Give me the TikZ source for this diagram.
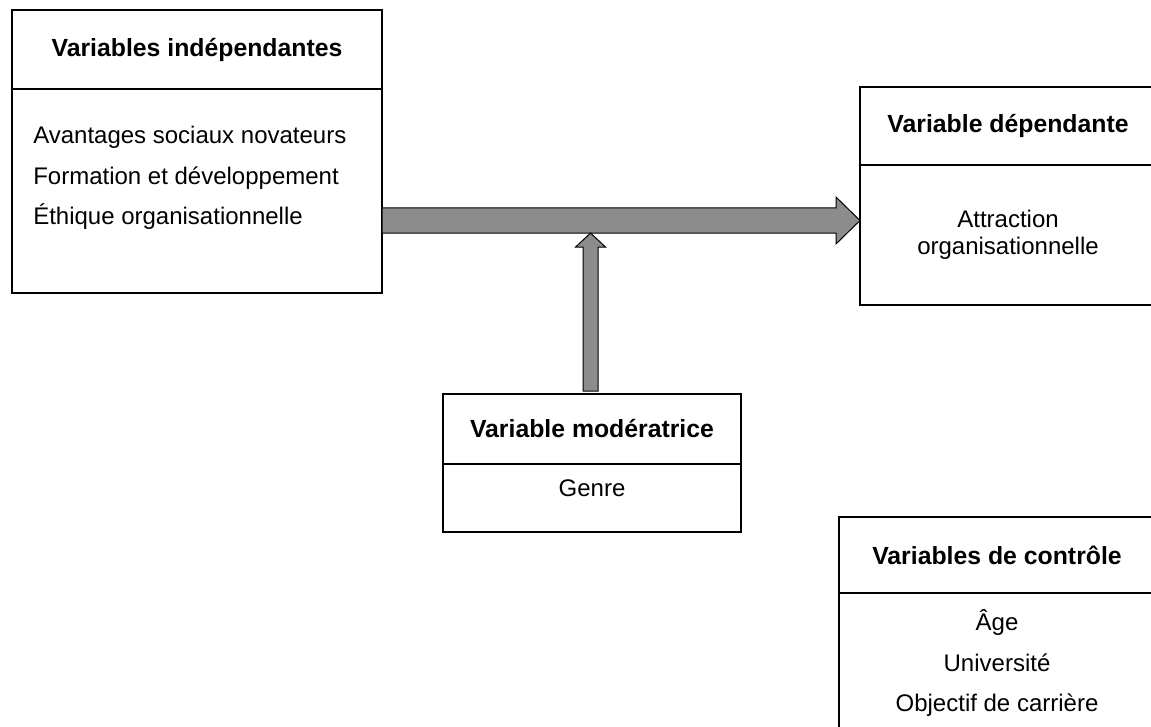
\documentclass[tikz,border=0pt]{standalone}
\usepackage{fontspec}
\setmainfont{Liberation Sans}
\usetikzlibrary{positioning}
\definecolor{arrow-gray}{RGB}{140,140,140}
\tikzset{
    title-box/.style = {draw=black, line width=1.5pt, rectangle, outer sep=0pt, inner sep=0pt, font=\fontsize{18.6}{22}\selectfont\bfseries},
    body-box/.style = {draw=black, line width=1.5pt, rectangle, outer sep=0pt, inner sep=0pt, align=center, font=\fontsize{18}{20.3}\selectfont},
    item-list/.style = {inner sep=0pt, font=\fontsize{18}{30.4}\selectfont},
    block-arrow/.style = {draw=black, line width=0.75pt, fill=arrow-gray, line join=miter},
}

\begin{document}
\begin{tikzpicture}[x=0.75pt, y=-0.75pt]
\useasboundingbox (0,0) rectangle (1151,726);
\clip (0,0) rectangle (1151,726);

\node[title-box, minimum width=277.5pt, minimum height=59.25pt] (vi-title) at (197,49.5) {Variables indépendantes};
\node[body-box, minimum width=277.5pt, minimum height=153pt, below=0pt of vi-title] (vi-body) {};
\node[item-list, anchor=west, align=left] (vi-list) at (33,178) {Avantages sociaux novateurs\\Formation et développement\\Éthique organisationnelle};

\node[title-box, minimum width=222pt, minimum height=58.5pt] (vd-title) at (1008,126) {Variable dépendante};
\node[body-box, minimum width=222pt, minimum height=105pt, below=0pt of vd-title] (vd-body) {Attraction\\organisationnelle};

\node[title-box, minimum width=223.5pt, minimum height=52.5pt] (vm-title) at (592,429) {Variable modératrice};
\node[body-box, minimum width=223.5pt, minimum height=51pt, below=0pt of vm-title] (vm-body) {};
\node[item-list] (vm-list) at (592,488) {Genre};

\node[title-box, minimum width=237pt, minimum height=57pt] (vc-title) at (997,555) {Variables de contrôle};
\node[body-box, minimum width=237pt, minimum height=133pt, below=0pt of vc-title] (vc-body) {};
\node[item-list, align=center] (vc-list) at (997,663) {Âge\\Université\\Objectif de carrière};

\coordinate (arrow-y) at (0,220.5);
\coordinate (h-start) at (vi-body.east |- arrow-y);
\coordinate (h-end) at (vd-body.west |- arrow-y);
\draw[block-arrow] ([yshift=9.4pt]h-start) -- ([xshift=-18pt,yshift=9.4pt]h-end) -- ([xshift=-18pt,yshift=17.6pt]h-end) -- (h-end)
    -- ([xshift=-18pt,yshift=-17.6pt]h-end) -- ([xshift=-18pt,yshift=-9.4pt]h-end) -- ([yshift=-9.4pt]h-start) -- cycle;

\coordinate (v-start) at ([xshift=-1.1pt,yshift=2.2pt]vm-title.north);
\coordinate (v-meet) at (v-start |- arrow-y);
\coordinate (v-end) at ([yshift=-9.4pt]v-meet);
\draw[block-arrow] ([xshift=-5.6pt]v-start) -- ([xshift=-5.6pt,yshift=-10.5pt]v-end) -- ([xshift=-11.25pt,yshift=-10.5pt]v-end) -- (v-end)
    -- ([xshift=11.25pt,yshift=-10.5pt]v-end) -- ([xshift=5.6pt,yshift=-10.5pt]v-end) -- ([xshift=5.6pt]v-start) -- cycle;
\end{tikzpicture}
\end{document}
